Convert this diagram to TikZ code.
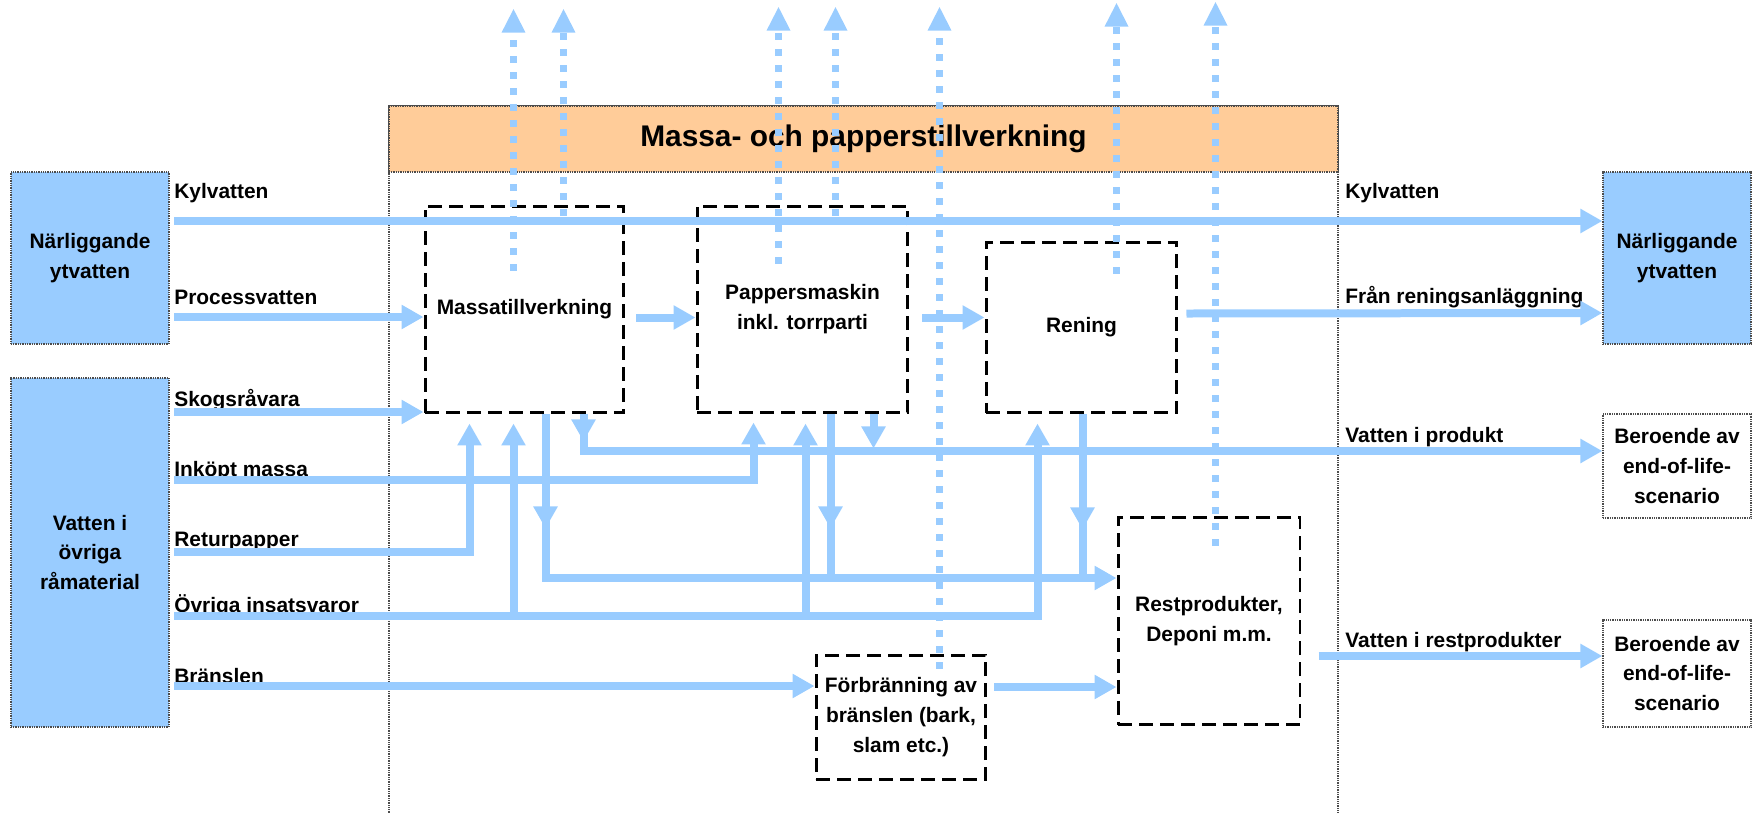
\documentclass[tikz,border=0pt]{standalone}
\usepackage{fontspec}
\setmainfont{Liberation Sans}
\usetikzlibrary{arrows.meta,calc}
\definecolor{flowblue}{RGB}{153,204,255}
\definecolor{bandorange}{RGB}{255,204,153}
\begin{document}
\begin{tikzpicture}[x=0.02cm,y=-0.02cm,
  txt/.style={font=\bfseries\fontsize{11.9}{17}\selectfont},
  frame/.style={draw=black!70, line width=0.7pt, dash pattern=on 0.5pt off 0.5pt},
  srcbox/.style={txt, frame, fill=flowblue, align=center, inner sep=0pt},
  endbox/.style={srcbox, fill=white},
  band/.style={frame, fill=bandorange, inner sep=0pt, font=\bfseries\fontsize{17}{20}\selectfont},
  procbox/.style={txt, draw, line width=0.06cm, dash pattern=on 0.28cm off 0.14cm, align=center, inner sep=0pt},
  lbl/.style={txt, anchor=base west, inner sep=0pt},
  pipe/.style={draw=flowblue, line width=0.16cm},
  flow/.style={pipe, -{Triangle[length=0.44cm,width=0.46cm]}},
  vap/.style={draw=flowblue, line width=0.14cm, dash pattern=on 0.14cm off 0.18cm, -{Triangle[length=0.48cm,width=0.44cm]}}]

\useasboundingbox (0,0) rectangle (1754,812);

% Bruket
\node[frame, minimum width=18.98cm, minimum height=14.48cm] (verk) at (863.5,468) {};
\node[band, anchor=north, minimum width=18.98cm, minimum height=1.32cm] (titel) at (verk.north) {Massa- och papperstillverkning};

% Kallor
\node[srcbox, minimum width=3.16cm, minimum height=3.44cm] (nl) at (90,258) {Närliggande\\ytvatten};
\node[srcbox, minimum width=3.16cm, minimum height=6.98cm] (vo) at (90,552.5) {Vatten i\\övriga\\råmaterial};

% Mottagare
\node[srcbox, minimum width=2.96cm, minimum height=3.44cm] (nr) at (1677,258) {Närliggande\\ytvatten};
\node[endbox, minimum width=2.96cm, minimum height=2.08cm] (eol1) at (1677,466) {Beroende av\\end-of-life-\\scenario};
\node[endbox, minimum width=2.96cm, minimum height=2.14cm] (eol2) at (1677,673.5) {Beroende av\\end-of-life-\\scenario};

% Processer
\node[procbox, minimum width=3.98cm, minimum height=4.14cm] (massa) at (524.5,309.5) {Massatillverkning};
\node[procbox, minimum width=4.22cm, minimum height=4.14cm] (papp) at (802.5,309.5) {Pappersmaskin\\inkl. torrparti};
\node[procbox, minimum width=3.82cm, minimum height=3.42cm] (ren) at (1081.5,327.5) {Rening};
\node[procbox, minimum width=3.64cm, minimum height=4.16cm] (rest) at (1209,621) {Restprodukter,\\Deponi m.m.};
\node[procbox, minimum width=3.40cm, minimum height=2.48cm] (forbr) at (901,717) {Förbränning av\\bränslen (bark,\\slam etc.)};

% Etiketter
\node[lbl] (lKyl) at (174,198) {Kylvatten};
\node[lbl] (lProc) at (174,304) {Processvatten};
\node[lbl] (lSkog) at (174,406) {Skogsråvara};
\node[lbl] (lInk) at (174,476) {Inköpt massa};
\node[lbl] (lRet) at (174,546) {Returpapper};
\node[lbl] (lOvr) at (174,612) {Övriga insatsvaror};
\node[lbl] (lBr) at (174,683) {Bränslen};
\node[lbl] (rKyl) at (1345,198) {Kylvatten};
\node[lbl] (rRen) at (1345,303) {Från reningsanläggning};
\node[lbl] (rProd) at (1345,442) {Vatten i produkt};
\node[lbl] (rRest) at (1345,647) {Vatten i restprodukter};

% Anslutningar
\coordinate (kyl) at (174,221);
\coordinate (proc) at (174,317);
\coordinate (skog) at (174,412);
\coordinate (ink) at (174,480);
\coordinate (ret) at (174,552);
\coordinate (ovr) at (174,616);
\coordinate (bra) at (174,686);
\coordinate (ret2m) at ($(massa.south west)+(46,0)$);
\coordinate (ovr2m) at ($(massa.south west)+(90,0)$);
\coordinate (m2rest) at ($(massa.south west)+(122,0)$);
\coordinate (m2prod) at ($(massa.south west)+(160,0)$);
\coordinate (ink2p) at ($(papp.south west)+(58,0)$);
\coordinate (ovr2p) at ($(papp.south west)+(110,0)$);
\coordinate (p2rest) at ($(papp.south west)+(135,0)$);
\coordinate (p2prod) at ($(papp.south west)+(178,0)$);
\coordinate (ovr2r) at ($(ren.south west)+(53,0)$);
\coordinate (r2rest) at ($(ren.south west)+(98,0)$);
\coordinate (restIn) at ($(rest.west)+(0,-43)$);
\coordinate (prodIn) at ($(eol1.west)+(0,-15)$);

% Inflöden
\draw[flow] (kyl) -- (nr.west |- kyl);
\draw[flow] (proc) -- (massa.west |- proc);
\draw[flow] (skog) -- (massa.west |- skog);
\draw[flow, shorten >=0.16cm] (ink) -| (ink2p);
\draw[flow, shorten >=0.18cm] (ret) -| (ret2m);
\draw[flow, shorten >=0.18cm] (ovr) -| (ovr2r);
\draw[flow, shorten >=0.18cm] (ovr2m |- ovr) -- (ovr2m);
\draw[flow, shorten >=0.18cm] (ovr2p |- ovr) -- (ovr2p);
\draw[flow] (bra) -- (forbr.west |- bra);

% Mellan processerna
\draw[flow] ($(massa.east)+(11,8)$) -- ($(papp.west)+(0,8)$);
\draw[flow] ($(papp.east)+(13,8)$) -- ($(ren.west)+(0,-10)$);
\draw[flow] ($(forbr.east)+(7,-30)$) -- ($(rest.west)+(0,66)$);

% Till restprodukter
\draw[flow] (m2rest) |- (restIn);
\draw[flow] (m2rest) -- ++(0,114);
\draw[pipe] (p2rest) -- (p2rest |- restIn);
\draw[flow] (p2rest) -- ++(0,114);
\draw[pipe] (r2rest) -- (r2rest |- restIn);
\draw[flow] (r2rest) -- ++(0,115);

% Vatten i produkt
\draw[flow] (m2prod) |- (prodIn);
\draw[flow] (m2prod) -- ++(0,27);
\draw[flow] (p2prod) -- ++(0,34);

% Utflöden
\draw[flow] ($(ren.east)+(8,-14)$) -- ($(nr.west)+(0,55)$);
\draw[flow] ($(rest.east)+(17,35)$) -- ($(eol2.west)+(0,-17.5)$);

% Avdunstning
\draw[vap] ($(massa.north west)+(90,66)$) -- ++(0,-262);
\draw[vap] ($(massa.north west)+(140,11)$) -- ++(0,-207);
\draw[vap] ($(papp.north west)+(83,59)$) -- ++(0,-257);
\draw[vap] ($(papp.north west)+(140,11)$) -- ++(0,-209);
\draw[vap] ($(forbr.north west)+(125,15)$) -- ++(0,-662);
\draw[vap] ($(ren.north west)+(132,33)$) -- ++(0,-271);
\draw[vap] ($(rest.north west)+(99,30)$) -- ++(0,-544);

\end{tikzpicture}
\end{document}
